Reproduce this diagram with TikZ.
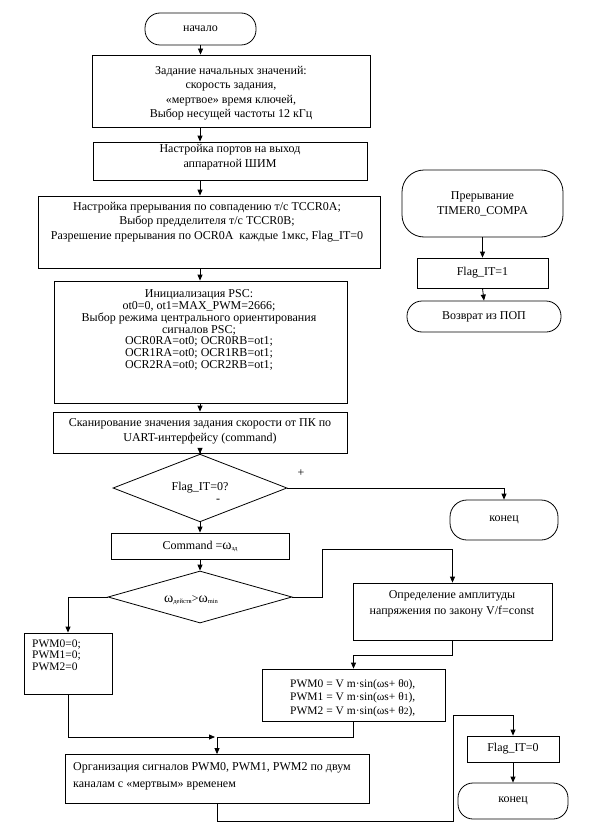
\documentclass[tikz,border=0pt]{standalone}
\usepackage{fontspec}
\setmainfont{Liberation Serif}
\usetikzlibrary{arrows.meta,shapes.geometric}
\newcommand{\bigw}{{\fontsize{14}{14}\selectfont ω}}
\newcommand{\tinyt}[1]{\raisebox{-1pt}{\fontsize{6.5}{6.5}\selectfont #1}}
\begin{document}
\begin{tikzpicture}[x=1pt,y=-1pt,
  every node/.style={font=\fontsize{12}{14.5}\selectfont, inner sep=0pt},
  box/.style={draw, line width=0.8pt, rectangle, inner sep=0pt},
  term/.style={draw, line width=0.8pt, rectangle, rounded corners=#1},
  dia/.style={draw, line width=0.8pt, diamond, inner sep=0pt},
  txt/.style={align=center},
  ltxt/.style={align=left, anchor=west},
  arr/.style={line width=0.8pt, -{Triangle[length=6pt,width=5pt]}},
  ln/.style={line width=0.8pt}]
\fill[white] (0,0) rectangle (591,832);
\coordinate (mx) at (200,0);
% main flow
\node[term=15pt, minimum width=111pt, minimum height=32pt] (start) at (200.5,29) {начало};
\node[box, minimum width=278pt, minimum height=72pt] (b1) at (231,91) {};
\node[txt, font=\fontsize{12}{14.5}\selectfont] (t1) at (231,93) {Задание начальных значений:\\скорость задания,\\«мертвое» время ключей,\\Выбор несущей частоты 12 кГц};
\node[box, minimum width=274pt, minimum height=38pt] (b2) at (230,161) {};
\node[txt, font=\fontsize{12}{15}\selectfont] (t2) at (230,157.5) {Настройка портов на выход\\аппаратной ШИМ};
\node[box, minimum width=342pt, minimum height=72pt] (b3) at (209,232) {};
\node[txt, font=\fontsize{12}{14.5}\selectfont] (t3) at (207,222) {Настройка прерывания по совпадению т/с TCCR0A;\\Выбор предделителя т/с TCCR0B;\\Разрешение прерывания по OCR0A\ \ каждые 1мкс, Flag\_IT=0};
\node[box, minimum width=293pt, minimum height=122pt] (b4) at (200.5,342) {};
\node[txt, font=\fontsize{12}{11.8}\selectfont] (t4) at (199,330) {Инициализация PSC:\\ot0=0, ot1=MAX\_PWM=2666;\\Выбор режима центрального ориентирования\\сигналов PSC;\\OCR0RA=ot0; OCR0RB=ot1;\\OCR1RA=ot0; OCR1RB=ot1;\\OCR2RA=ot0; OCR2RB=ot1;};
\node[box, minimum width=294pt, minimum height=41pt] (b5) at (200,432.5) {};
\node[txt, font=\fontsize{12}{15}\selectfont] (t5) at (200,431) {Сканирование значения задания скорости от ПК по\\UART-интерфейсу (command)};
\node[dia, minimum width=174pt, minimum height=53pt] (d1) at (200,488) {Flag\_IT=0?};
\node (plus) at (301,473) {+};
\node (minus) at (218,501) {-};
\node[term=17pt, minimum width=108pt, minimum height=40pt] (e1) at (504,520) {конец};
\node[box, minimum width=178pt, minimum height=26pt] (cmd) at (200,546) {Command =\bigw\tinyt{зд}};
\node[dia, minimum width=184pt, minimum height=52pt] (d2) at (200,597) {};
\node (t6) at (191,600) {\bigw\tinyt{действ}>\bigw\tinyt{min}};
\node[box, minimum width=199pt, minimum height=57pt] (opr) at (452.5,611.5) {};
\node[txt, font=\fontsize{12}{16}\selectfont] (t7) at (452,604) {Определение амплитуды\\напряжения по закону V/f=const};
\node[box, minimum width=88pt, minimum height=61pt] (p0) at (68,663.5) {};
\node[ltxt, font=\fontsize{11.5}{11.5}\selectfont] (t8) at (32,655) {PWM0=0;\\PWM1=0;\\PWM2=0};
\node[box, minimum width=183pt, minimum height=52pt] (pw) at (353.5,695) {};
\node[ltxt, font=\fontsize{11.5}{13.5}\selectfont] (t9) at (290,698) {PWM0 = V m·sin(ωs+ θ{\fontsize{9.5}{9.5}\selectfont 0}),\\PWM1 = V m·sin(ωs+ θ{\fontsize{9.5}{9.5}\selectfont 1}),\\PWM2 = V m·sin(ωs+ θ{\fontsize{9.5}{9.5}\selectfont 2}),};
\node[box, minimum width=304pt, minimum height=49pt] (org) at (217,779) {};
\node[ltxt, font=\fontsize{12}{17}\selectfont] (t10) at (73,776) {Организация сигналов PWM0, PWM1, PWM2 по двум\\каналам с «мертвым» временем};
% interrupt routine
\node[term=22pt, minimum width=161pt, minimum height=67pt, txt, font=\fontsize{12}{15}\selectfont] (int) at (482.5,203.5) {Прерывание\\TIMER0\_COMPA};
\node[box, minimum width=131pt, minimum height=30pt] (f1) at (482.5,273) {Flag\_IT=1};
\node[term=15pt, minimum width=154pt, minimum height=31pt] (ret) at (484,316.5) {Возврат из ПОП};
% bottom right
\node[box, minimum width=92pt, minimum height=26pt] (f0) at (513,749) {Flag\_IT=0};
\node[term=15pt, minimum width=110pt, minimum height=36pt] (e2) at (513,801) {конец};
% connectors
\draw[arr] (start.south) -- (start.south |- b1.north);
\draw[arr] (b1.south -| mx) -- (b2.north -| mx);
\draw[arr] (b2.south -| mx) -- (b3.north -| mx);
\draw[arr] (b3.south -| mx) -- (b4.north -| mx);
\draw[arr] (b4.south -| mx) -- (b5.north -| mx);
\draw[arr] (b5.south -| mx) -- (d1.north);
\draw[arr] (d1.south) -- (cmd.north);
\draw[arr] (cmd.south) -- (d2.north);
\draw[arr] (d1.east) -| (e1.north);
\coordinate (k1) at (322,549);
\draw[arr] (d2.east) -| (k1) -| (opr.north);
\draw[arr] (d2.west) -| (p0.north);
\coordinate (k2) at (0,655);
\draw[arr] (opr.south) -- (opr.south |- k2) -| (pw.north);
\coordinate (jn) at (217,737);
\draw[ln] (pw.south) |- (jn);
\draw[arr] (jn) -- (org.north);
\draw[arr] (p0.south) |- ([xshift=-2pt]jn);
\coordinate (k3) at (453,821);
\coordinate (k4) at (453,715);
\draw[arr] (org.south) |- (k3) -- (k4) -| (f0.north);
\draw[arr] (f0.south) -- (e2.north);
\draw[arr] (int.south) -- (f1.north);
\draw[arr] (f1.south) -- (ret.north);
\end{tikzpicture}
\end{document}
